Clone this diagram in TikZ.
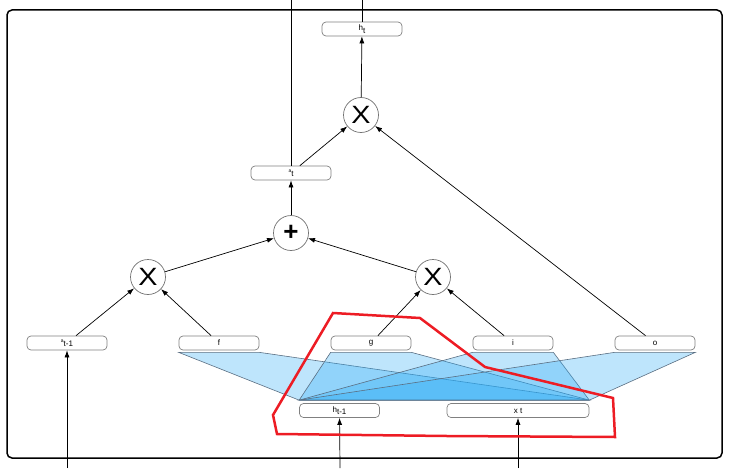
\documentclass[tikz,border=0pt]{standalone}
\usepackage{fontspec}
\setmainfont{Liberation Sans}
\usetikzlibrary{positioning, arrows.meta, calc}

\definecolor{fanblue}{RGB}{40,170,245}
\definecolor{fanedge}{RGB}{90,110,130}
\definecolor{markred}{RGB}{237,28,36}

\newcommand{\lowsub}[1]{\raisebox{-2.5pt}{#1}}
\newcommand{\opmul}{\fontsize{25}{25}\selectfont\scalebox{1.15}[1]{X}}

\begin{document}
\begin{tikzpicture}[
  x=1pt, y=-1pt,
  font=\fontsize{8}{9}\selectfont,
  >={Latex[length=7pt,width=5pt]},
  valbox/.style={draw=black!50, line width=0.7pt, rounded corners=4pt, fill=white, minimum width=80pt, minimum height=14pt, inner sep=0pt},
  opnode/.style={draw=black!55, line width=0.7pt, circle, fill=white, minimum size=35pt, inner sep=0pt},
  arr/.style={->, line width=0.7pt},
  fan/.style={fill=fanblue, fill opacity=0.3, draw=fanedge, line width=0.6pt}
]
\useasboundingbox (0,0) rectangle (730,468);
\draw[line width=1.5pt, rounded corners=5pt] (7,10) rectangle (722,458);
\node[valbox] (ht) at (362,29) {h\lowsub{t}};
\node[valbox] (at) at (291,173) {\raisebox{2pt}{\tiny a}\lowsub{t}};
\node[valbox] (atm1) at (67,343) {\raisebox{2pt}{\tiny a}\lowsub{t-1}};
\node[valbox] (f) at (219,343) {f};
\node[valbox] (g) at (371,343) {g};
\node[valbox] (i) at (513,343) {i};
\node[valbox] (o) at (655,343) {o};
\node[valbox] (ht1) at (339.5,410.5) {h\lowsub{t-1}};
\node[valbox, minimum width=142pt] (xt) at (518,410.5) {x t};
\node[opnode] (mulh) at (361,115) {\opmul};
\node[opnode] (add) at (291,233) {\fontsize{26}{26}\selectfont\bfseries +};
\node[opnode] (mulc) at (148,277) {\opmul};
\node[opnode] (mulg) at (433,277) {\opmul};
\coordinate (out1) at (291,0);
\coordinate (out2) at (362,0);
\coordinate (in1) at (67,468);
\coordinate (in2) at (340,468);
\coordinate (in3) at (518,468);
% gate fans from the inputs
\draw[fan] ($(f.south west)+(0,2)$) -- ($(f.south east)+(0,2)$) -- ($(xt.north east)+(0,-3)$) -- ($(ht1.north west)+(0,-3)$) -- cycle;
\draw[fan] ($(g.south west)+(0,2)$) -- ($(g.south east)+(0,2)$) -- ($(xt.north east)+(0,-3)$) -- ($(ht1.north west)+(0,-3)$) -- cycle;
\draw[fan] ($(i.south west)+(0,2)$) -- ($(i.south east)+(0,2)$) -- ($(xt.north east)+(0,-3)$) -- ($(ht1.north west)+(0,-3)$) -- cycle;
\draw[fan] ($(o.south west)+(0,2)$) -- ($(o.south east)+(0,2)$) -- ($(xt.north east)+(0,-3)$) -- ($(ht1.north west)+(0,-3)$) -- cycle;
\draw[arr] (in1) -- (atm1);
\draw[arr] (in2) -- (ht1);
\draw[arr] (in3) -- (xt);
\draw[arr] (atm1) -- (mulc);
\draw[arr] (f) -- (mulc);
\draw[arr] (g) -- (mulg);
\draw[arr] (i) -- (mulg);
\draw[arr] (mulc) -- (add);
\draw[arr] (mulg) -- (add);
\draw[arr] (add) -- (at);
\draw[arr] (at) -- (mulh);
\draw[arr] (o) -- (mulh);
\draw[arr] (mulh) -- (ht);
\draw[line width=0.7pt] (at) -- (out1);
\draw[line width=0.7pt] (ht) -- (out2);
% hand-drawn mark
\draw[markred, line width=2.5pt] (333,313) -- (420,318) -- (485,367) -- (613,398) -- (615,437) -- (447,436) -- (277,434) -- (273,415) -- cycle;
\end{tikzpicture}
\end{document}
